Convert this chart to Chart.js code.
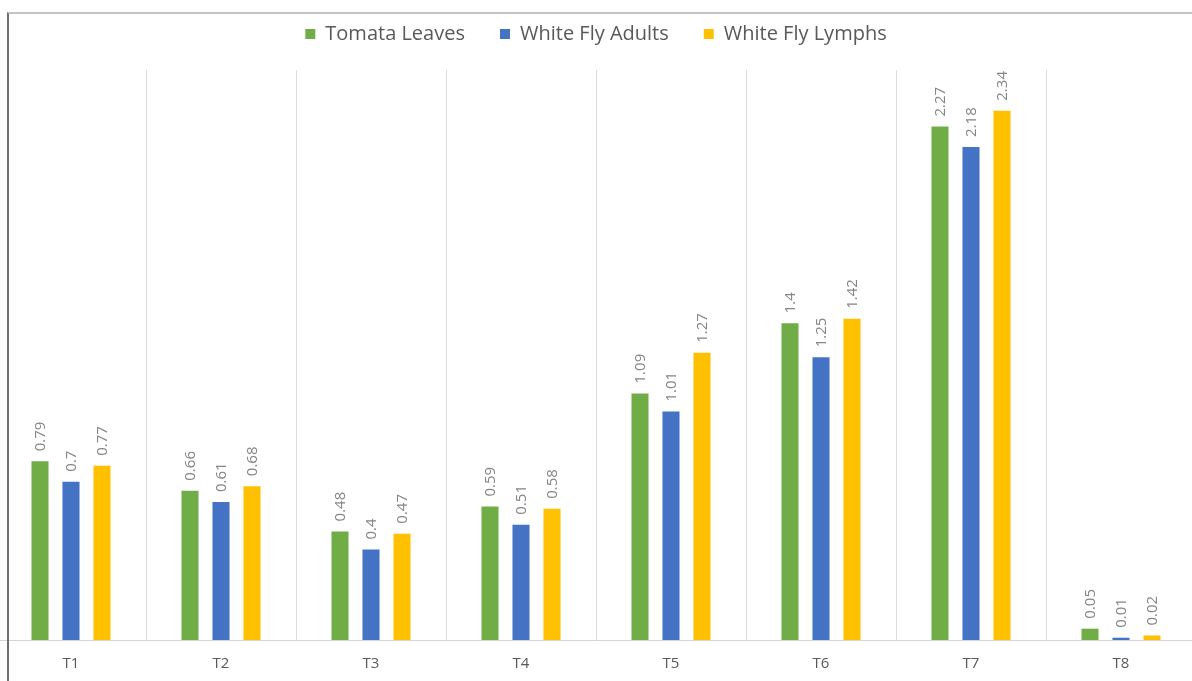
<!DOCTYPE html>
<html>
<head>
<meta charset="utf-8">
<script src="https://cdn.jsdelivr.net/npm/chart.js@4/dist/chart.umd.min.js"></script>
<style>
  body { margin: 0; background: #fff; }
  #wrap { position: relative; width: 1192px; height: 681px; overflow: hidden; }
  #chartBox { position: absolute; left: -4px; top: -11px; width: 1200px; height: 708px; }
  #frame { position: absolute; left: 7px; top: 12px; right: -10px; bottom: -10px;
           border-top: 2px solid #c4c4c4; border-left: 2px solid #6e6e6e; pointer-events: none; }
</style>
</head>
<body>
<div id="wrap">
  <div id="chartBox"><canvas id="barChart"></canvas></div>
  <div id="frame"></div>
</div>
<script>
// chart data
const treatments = ["T1", "T2", "T3", "T4", "T5", "T6", "T7", "T8"];
const tomataLeaves = [0.79, 0.66, 0.48, 0.59, 1.09, 1.4, 2.27, 0.05];
const whiteFlyAdults = [0.7, 0.61, 0.4, 0.51, 1.01, 1.25, 2.18, 0.01];
const whiteFlyLymphs = [0.77, 0.68, 0.47, 0.58, 1.27, 1.42, 2.34, 0.02];

// value labels drawn rotated above every bar
const barValues = {
  id: "barValues",
  afterDatasetsDraw(chart) {
    const c = chart.ctx;
    c.save();
    c.font = "15px 'Open Sans'";
    c.fillStyle = "#858585";
    c.textAlign = "left";
    c.textBaseline = "middle";
    chart.data.datasets.forEach((ds, i) => {
      chart.getDatasetMeta(i).data.forEach((bar, j) => {
        c.save();
        c.translate(bar.x + 1, bar.y - 10);
        c.rotate(-Math.PI / 2);
        c.fillText(String(ds.data[j]), 0, 0);
        c.restore();
      });
    });
    c.restore();
  }
};

// make room under the legend
const legendRoom = {
  id: "legendRoom",
  beforeInit(chart) {
    const fit = chart.legend.fit;
    chart.legend.fit = function () {
      fit.bind(chart.legend)();
      this.height = 81;
    };
  }
};

const data = {
  labels: treatments,
  datasets: [
    { label: "Tomata Leaves", data: tomataLeaves, backgroundColor: "#70ad47" },
    { label: "White Fly Adults", data: whiteFlyAdults, backgroundColor: "#4472c4" },
    { label: "White Fly Lymphs", data: whiteFlyLymphs, backgroundColor: "#ffc000" }
  ]
};

const config = {
  type: "bar",
  data: data,
  options: {
    responsive: true,
    maintainAspectRatio: false,
    animation: false,
    categoryPercentage: 0.62,
    barPercentage: 0.55,
    layout: { padding: { top: 0, bottom: 9, left: 0, right: 0 } },
    plugins: {
      legend: {
        position: "top",
        labels: {
          boxWidth: 10,
          boxHeight: 10,
          padding: 35,
          color: "#595959",
          font: { family: "'Open Sans'", size: 20 }
        }
      },
      tooltip: { enabled: false }
    },
    scales: {
      x: {
        grid: { color: "#dcdcdc", drawTicks: false },
        border: { color: "#d4d4d4" },
        ticks: { color: "#595959", padding: 15, font: { family: "'Open Sans'", size: 15 } }
      },
      y: { display: false, min: 0, max: 2.52 }
    }
  },
  plugins: [barValues, legendRoom]
};

const barChart = new Chart(document.getElementById("barChart"), config);
</script>
</body>
</html>
